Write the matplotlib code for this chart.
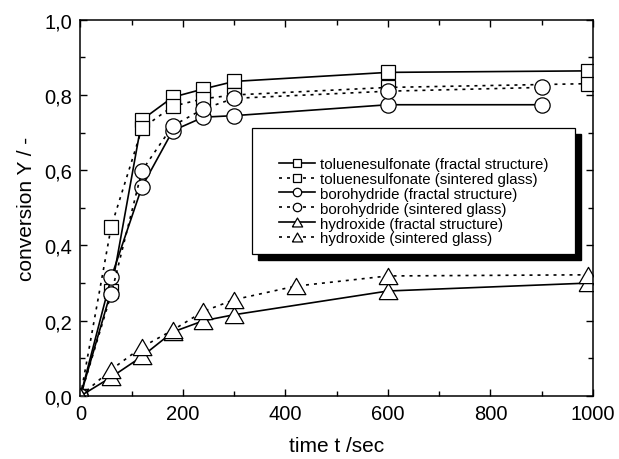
import matplotlib
matplotlib.use("Agg")
import matplotlib.pyplot as plt
from matplotlib.patches import Rectangle
from matplotlib.ticker import MultipleLocator, FixedLocator, FixedFormatter

plt.rcParams['font.family'] = ['Liberation Sans', 'DejaVu Sans']

# ---- data ----
t_ts_f = [0, 60, 120, 180, 240, 300, 600, 990]
y_ts_f = [0.0, 0.28, 0.734, 0.794, 0.816, 0.836, 0.860, 0.864]
t_ts_s = [0, 60, 120, 180, 240, 300, 600, 990]
y_ts_s = [0.0, 0.45, 0.711, 0.770, 0.790, 0.800, 0.820, 0.830]
t_bh_f = [0, 60, 120, 180, 240, 300, 600, 900]
y_bh_f = [0.0, 0.315, 0.556, 0.705, 0.741, 0.745, 0.774, 0.774]
t_bh_s = [0, 60, 120, 180, 240, 300, 600, 900]
y_bh_s = [0.0, 0.271, 0.599, 0.718, 0.763, 0.791, 0.810, 0.820]
t_oh_f = [0, 60, 120, 180, 240, 300, 600, 990]
y_oh_f = [0.0, 0.05, 0.105, 0.170, 0.200, 0.216, 0.279, 0.300]
t_oh_s = [0, 60, 120, 180, 240, 300, 420, 600, 990]
y_oh_s = [0.0, 0.07, 0.130, 0.175, 0.225, 0.256, 0.292, 0.319, 0.322]

labels = ["toluenesulfonate (fractal structure)",
          "toluenesulfonate (sintered glass)",
          "borohydride (fractal structure)",
          "borohydride (sintered glass)",
          "hydroxide (fractal structure)",
          "hydroxide (sintered glass)"]

x_ticks = [0, 200, 400, 600, 800, 1000]
y_ticks = [0.0, 0.2, 0.4, 0.6, 0.8, 1.0]
y_tick_labels = ["0,0", "0,2", "0,4", "0,6", "0,8", "1,0"]

# ---- figure ----
fig = plt.figure(figsize=(6.19, 4.6), dpi=100)
ax = fig.add_axes([0.130, 0.137, 0.828, 0.818])

tri = [(-1, -0.866), (1, -0.866), (0, 0.866), (-1, -0.866)]
dotted = (0, (1.8, 3.0))
lw = 1.2
common = dict(color='black', lw=lw, mfc='white', mec='black', mew=0.9)

series = [
    (t_ts_f, y_ts_f, 's', 9.8, '-'),
    (t_ts_s, y_ts_s, 's', 9.8, dotted),
    (t_bh_f, y_bh_f, 'o', 11, '-'),
    (t_bh_s, y_bh_s, 'o', 11, dotted),
    (t_oh_f, y_oh_f, tri, 13.5, '-'),
    (t_oh_s, y_oh_s, tri, 13.5, dotted),
]
for (t, y, m, ms, ls), lab in zip(series, labels):
    ax.plot(t, y, ls=ls, marker=m, ms=ms, label=lab, clip_on=True, **common)

ax.set_xlim(0, 1000)
ax.set_ylim(0, 1.0)
ax.xaxis.set_major_locator(FixedLocator(x_ticks))
ax.xaxis.set_minor_locator(MultipleLocator(100))
ax.yaxis.set_major_locator(FixedLocator(y_ticks))
ax.yaxis.set_major_formatter(FixedFormatter(y_tick_labels))
ax.yaxis.set_minor_locator(MultipleLocator(0.1))
ax.tick_params(which='both', direction='in', top=True, right=True, width=1.0,
               labelsize=14.5)
ax.tick_params(which='major', length=5, pad=6)
ax.tick_params(which='minor', length=3.5)
for s in ax.spines.values():
    s.set_linewidth(1.1)

ax.set_xlabel("time t /sec", fontsize=15, labelpad=9)
ax.set_ylabel("conversion Y / -", fontsize=15, labelpad=6)

# ---- legend with custom frame and shadow ----
def fx(px):
    return (px - 80.5) / 512.5

def fy(py):
    return (397.0 - py) / 376.3

x0, x1 = fx(251.7), fx(575.0)
y0, y1 = fy(255.0), fy(129.3)
dx, dy = 6 / 512.5, 6 / 376.3
ax.add_patch(Rectangle((x0 + dx, y0 - dy), x1 - x0, y1 - y0, transform=ax.transAxes,
                       facecolor='black', edgecolor='black', zorder=4.4, clip_on=False))
ax.add_patch(Rectangle((x0, y0), x1 - x0, y1 - y0, transform=ax.transAxes,
                       facecolor='white', edgecolor='black', lw=0.9, zorder=4.5,
                       clip_on=False))

leg = ax.legend(loc='center left', bbox_to_anchor=(fx(279), fy(202.2)),
                frameon=False, fontsize=10.8, borderpad=0, labelspacing=0.06,
                handlelength=2.4, handletextpad=0.35, markerscale=0.55,
                borderaxespad=0)
leg.set_zorder(5)

fig.savefig("out.png", dpi=100)
